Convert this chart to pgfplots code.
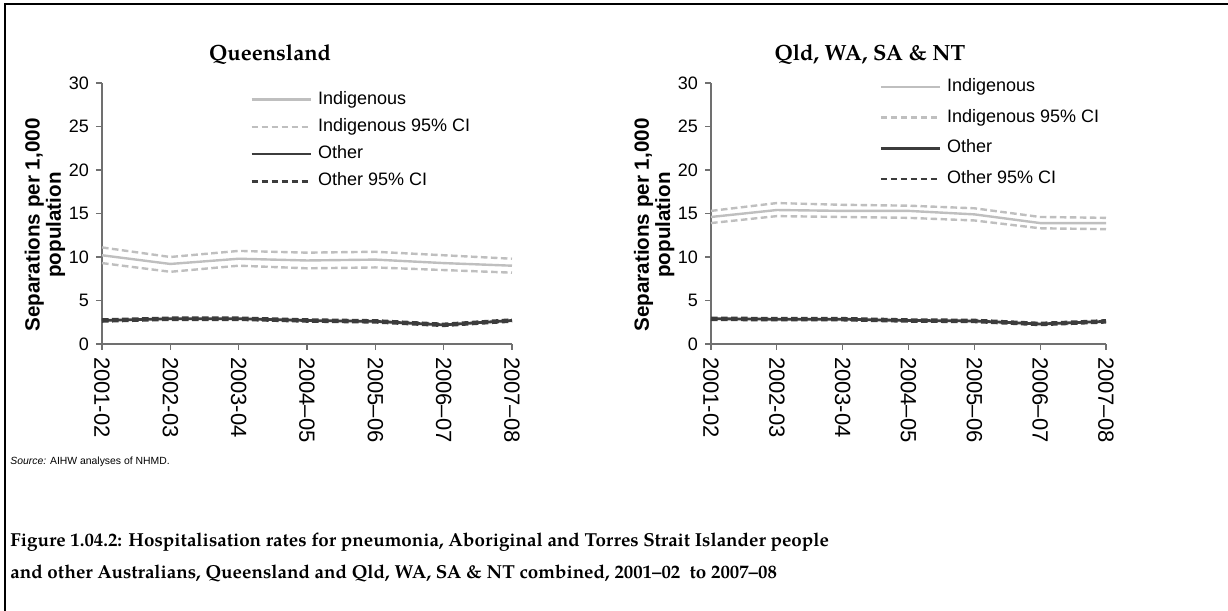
\documentclass[border=0pt]{standalone}
\usepackage{fontspec}
\setmainfont{Liberation Sans}
\newfontfamily\pal{TeX Gyre Pagella}
\usepackage{pgfplots}
\usepackage{pgfplotstable}
\pgfplotsset{compat=1.18}

\definecolor{indc}{HTML}{BFBFBF}
\definecolor{othc}{HTML}{3C3C3C}
\definecolor{axc}{HTML}{707070}

% year, Indigenous rate, lower CI, upper CI, Other rate, lower CI, upper CI
\pgfplotstableread{
x ind indlo indhi oth othlo othhi
0 10.2 9.3 11.1 2.7 2.6 2.8
1 9.2 8.3 10.0 2.9 2.8 3.0
2 9.8 9.0 10.7 2.9 2.8 3.0
3 9.6 8.7 10.5 2.7 2.6 2.8
4 9.7 8.8 10.6 2.6 2.5 2.7
5 9.3 8.5 10.2 2.2 2.1 2.3
6 9.0 8.2 9.8 2.7 2.6 2.8
}\qld
\pgfplotstableread{
x ind indlo indhi oth othlo othhi
0 14.6 13.9 15.3 2.9 2.8 3.0
1 15.4 14.7 16.2 2.85 2.75 2.95
2 15.3 14.6 16.0 2.85 2.75 2.95
3 15.3 14.5 15.9 2.7 2.6 2.8
4 14.9 14.2 15.6 2.65 2.55 2.75
5 13.9 13.3 14.6 2.3 2.2 2.4
6 13.9 13.2 14.5 2.6 2.5 2.7
}\comb

\pgfplotsset{
  panel/.style={
    scale only axis, height=130.5pt,
    xmin=0, xmax=6, ymin=0, ymax=30,
    axis x line=bottom, axis y line=left,
    axis line style={-, draw=axc, line width=0.6pt},
    tick style={draw=axc, line width=0.6pt},
    tick align=outside, major tick length=3pt,
    xtick={0,...,6}, ytick={0,5,...,30},
    xticklabels={2001-02,2002-03,2003-04,2004–05,2005–06,2006–07,2007–08},
    xticklabel style={rotate=-90, anchor=west, font=\fontsize{11}{12}\selectfont},
    yticklabel style={font=\fontsize{9}{11}\selectfont},
    /pgf/number format/assume math mode=true,
    ylabel={Separations per 1,000\\population},
    ylabel style={anchor=center, align=center, font=\bfseries\fontsize{10.3}{9.6}\selectfont},
    legend cell align=left,
    legend image code/.code={\draw[#1] (0pt,0pt) -- (29.5pt,0pt);},
    clip=false,
  },
  indl/.style={indc, line width=1.2pt},
  indd/.style={indc, line width=1.2pt, dash pattern=on 3.3pt off 1.7pt},
  othl/.style={othc, line width=1.4pt},
  othd/.style={othc, line width=1.4pt, dash pattern=on 3.3pt off 1.7pt},
}

\begin{document}
\begin{tikzpicture}
\useasboundingbox (0,0) rectangle (614pt,305.5pt);
\draw[line width=1.4pt] (2.5pt,0pt) -- (2.5pt,303.5pt) -- (614pt,303.5pt);

\begin{axis}[panel, at={(51pt,133.5pt)}, anchor=south west, width=205pt,
  ylabel style={at={(axis description cs:-0.139,0.456)}},
  legend style={draw=none, fill=none, at={(axis description cs:0.346,0.986)}, anchor=north west,
    font=\fontsize{9}{11}\selectfont, row sep=5.25pt, column sep=3pt,
    nodes={inner sep=0pt, text height=6.5pt, text depth=1.9pt}}]
\addplot[indl] table[x=x,y=ind]{\qld};
\addlegendentry{Indigenous}
\addplot[indd] table[x=x,y=indlo]{\qld};
\addlegendentry{Indigenous 95\% CI}
\addplot[indd, forget plot] table[x=x,y=indhi]{\qld};
\addplot[othl] table[x=x,y=oth]{\qld};
\addlegendentry{Other}
\addplot[othd] table[x=x,y=othlo]{\qld};
\addlegendentry{Other 95\% CI}
\addplot[othd, forget plot] table[x=x,y=othhi]{\qld};
\node[font=\pal\bfseries\fontsize{11}{13}\selectfont] at (axis description cs:0.41,1.107) {Queensland};
\end{axis}

\begin{axis}[panel, at={(355.5pt,133.5pt)}, anchor=south west, width=197.5pt,
  ylabel style={at={(axis description cs:-0.144,0.456)}},
  legend style={draw=none, fill=none, at={(axis description cs:0.41,1.034)}, anchor=north west,
    font=\fontsize{9}{11}\selectfont, row sep=6.95pt, column sep=3pt,
    nodes={inner sep=0pt, text height=6.5pt, text depth=1.9pt}}]
\addplot[indl] table[x=x,y=ind]{\comb};
\addlegendentry{Indigenous}
\addplot[indd] table[x=x,y=indlo]{\comb};
\addlegendentry{Indigenous 95\% CI}
\addplot[indd, forget plot] table[x=x,y=indhi]{\comb};
\addplot[othl] table[x=x,y=oth]{\comb};
\addlegendentry{Other}
\addplot[othd] table[x=x,y=othlo]{\comb};
\addlegendentry{Other 95\% CI}
\addplot[othd, forget plot] table[x=x,y=othhi]{\comb};
\node[font=\pal\bfseries\fontsize{11}{13}\selectfont] at (axis description cs:0.4025,1.107) {Qld, WA, SA \& NT};
\end{axis}

\node[anchor=west, inner sep=0pt, font=\fontsize{5.2}{6}\selectfont] at (5pt,74.5pt)
  {\textit{Source:} AIHW analyses of NHMD.};
\node[anchor=base west, inner sep=0pt, font=\pal\bfseries\fontsize{9.4}{11}\selectfont] at (5pt,32pt)
  {Figure 1.04.2: Hospitalisation rates for pneumonia, Aboriginal and Torres Strait Islander people};
\node[anchor=base west, inner sep=0pt, font=\pal\bfseries\fontsize{9.4}{11}\selectfont] at (5pt,16pt)
  {and other Australians, Queensland and Qld, WA, SA \& NT combined, 2001–02\ \ to 2007–08};
\end{tikzpicture}
\end{document}
